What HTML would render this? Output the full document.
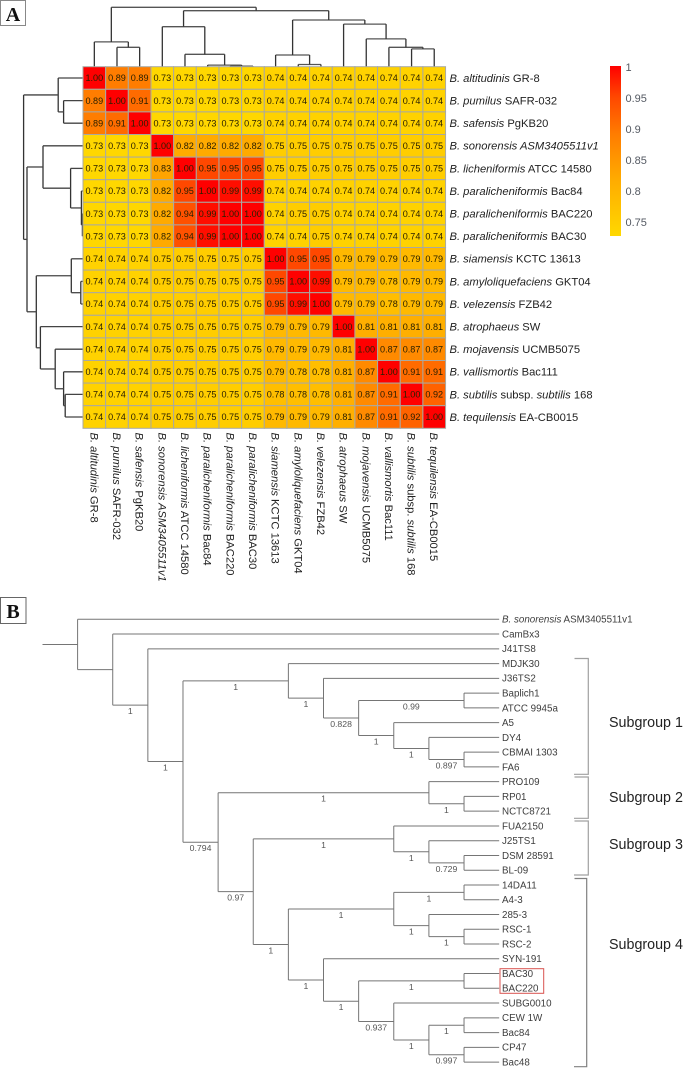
<!DOCTYPE html>
<html lang="en">
<head>
<meta charset="utf-8">
<title>ANI heatmap and phylogenetic tree</title>
<style>
html,body{margin:0;padding:0;background:#fff;}
#figure{display:block;width:685px;height:1068px;font-family:"Liberation Sans",sans-serif;filter:blur(0.35px);}
</style>
</head>
<body>
<svg id="figure" xmlns="http://www.w3.org/2000/svg" width="685" height="1068" viewBox="0 0 685 1068">
  <rect x="0" y="0" width="685" height="1068" fill="#fff"/>
  <g>
    <rect x="0.5" y="0.5" width="25" height="25" fill="#fff" stroke="#888"/>
    <text x="13" y="21" text-anchor="middle" font-family="'Liberation Serif',serif" font-weight="bold" font-size="20" fill="#111">A</text>
  </g>
  <g id="topDendrogram"></g>
  <g id="leftDendrogram"></g>
  <g id="heatmap"></g>
  <g id="rowLabels"></g>
  <g id="colLabels"></g>
  <g id="colorbar"></g>
  <g>
    <rect x="0.5" y="597.5" width="25.5" height="26" fill="#fff" stroke="#666"/>
    <text x="13" y="618" text-anchor="middle" font-family="'Liberation Serif',serif" font-weight="bold" font-size="20" fill="#111">B</text>
  </g>
  <g id="phylo"></g>
  <rect x="500" y="968.7" width="43.7" height="24.6" fill="none" stroke="#d9534f" stroke-width="1"/>
  <g fill="none" stroke="#a0a0a0" stroke-width="1.2">
    <path d="M574.5 658.5H588.3V774.3H574"/>
    <path d="M574.5 777H588.3V818.3H574"/>
    <path d="M574.5 821H588.3V875H574"/>
    <path stroke="#808080" d="M574.5 878.5H586.7V1066.7H574"/>
  </g>
  <g font-size="14.3" fill="#222">
    <text x="609" y="727">Subgroup 1</text>
    <text x="609" y="802">Subgroup 2</text>
    <text x="609" y="849">Subgroup 3</text>
    <text x="609" y="949">Subgroup 4</text>
  </g>
</svg>
<script>
// ---- Panel A data ----
const taxa = [
  "*B. altitudinis* GR-8",
  "*B. pumilus* SAFR-032",
  "*B. safensis* PgKB20",
  "*B. sonorensis ASM3405511v1*",
  "*B. licheniformis* ATCC 14580",
  "*B. paralicheniformis* Bac84",
  "*B. paralicheniformis* BAC220",
  "*B. paralicheniformis* BAC30",
  "*B. siamensis* KCTC 13613",
  "*B. amyloliquefaciens* GKT04",
  "*B. velezensis* FZB42",
  "*B. atrophaeus* SW",
  "*B. mojavensis* UCMB5075",
  "*B. vallismortis* Bac111",
  "*B. subtilis* subsp. *subtilis* 168",
  "*B. tequilensis* EA-CB0015"
];
const aniRow01 = [1.00,0.89,0.89,0.73,0.73,0.73,0.73,0.73,0.74,0.74,0.74,0.74,0.74,0.74,0.74,0.74];
const aniRow02 = [0.89,1.00,0.91,0.73,0.73,0.73,0.73,0.73,0.74,0.74,0.74,0.74,0.74,0.74,0.74,0.74];
const aniRow03 = [0.89,0.91,1.00,0.73,0.73,0.73,0.73,0.73,0.74,0.74,0.74,0.74,0.74,0.74,0.74,0.74];
const aniRow04 = [0.73,0.73,0.73,1.00,0.82,0.82,0.82,0.82,0.75,0.75,0.75,0.75,0.75,0.75,0.75,0.75];
const aniRow05 = [0.73,0.73,0.73,0.83,1.00,0.95,0.95,0.95,0.75,0.75,0.75,0.75,0.75,0.75,0.75,0.75];
const aniRow06 = [0.73,0.73,0.73,0.82,0.95,1.00,0.99,0.99,0.74,0.74,0.74,0.74,0.74,0.74,0.74,0.74];
const aniRow07 = [0.73,0.73,0.73,0.82,0.94,0.99,1.00,1.00,0.74,0.75,0.75,0.74,0.74,0.74,0.74,0.74];
const aniRow08 = [0.73,0.73,0.73,0.82,0.94,0.99,1.00,1.00,0.74,0.74,0.75,0.74,0.74,0.74,0.74,0.74];
const aniRow09 = [0.74,0.74,0.74,0.75,0.75,0.75,0.75,0.75,1.00,0.95,0.95,0.79,0.79,0.79,0.79,0.79];
const aniRow10 = [0.74,0.74,0.74,0.75,0.75,0.75,0.75,0.75,0.95,1.00,0.99,0.79,0.79,0.78,0.79,0.79];
const aniRow11 = [0.74,0.74,0.74,0.75,0.75,0.75,0.75,0.75,0.95,0.99,1.00,0.79,0.79,0.78,0.79,0.79];
const aniRow12 = [0.74,0.74,0.74,0.75,0.75,0.75,0.75,0.75,0.79,0.79,0.79,1.00,0.81,0.81,0.81,0.81];
const aniRow13 = [0.74,0.74,0.74,0.75,0.75,0.75,0.75,0.75,0.79,0.79,0.79,0.81,1.00,0.87,0.87,0.87];
const aniRow14 = [0.74,0.74,0.74,0.75,0.75,0.75,0.75,0.75,0.79,0.78,0.78,0.81,0.87,1.00,0.91,0.91];
const aniRow15 = [0.74,0.74,0.74,0.75,0.75,0.75,0.75,0.75,0.78,0.78,0.78,0.81,0.87,0.91,1.00,0.92];
const aniRow16 = [0.74,0.74,0.74,0.75,0.75,0.75,0.75,0.75,0.79,0.79,0.79,0.81,0.87,0.91,0.92,1.00];
const aniMatrix = [aniRow01,aniRow02,aniRow03,aniRow04,aniRow05,aniRow06,aniRow07,aniRow08,aniRow09,aniRow10,aniRow11,aniRow12,aniRow13,aniRow14,aniRow15,aniRow16];
const colorbarTicks = [1,0.95,0.9,0.85,0.8,0.75];
const colorStopValues = [0.73,0.82,0.89,0.95,1];
const colorStopGreens = [215,170,125,72,0];
// cluster tree: [merge height (distance), childA, childB]; numbers as children are taxon indices
const clusterTree = [0.297,
  [0.124, {leaf:0}, [0.097, {leaf:1}, {leaf:2}]],
  [0.28,
    [0.2, {leaf:3}, [0.062, {leaf:4}, [0.008, {leaf:5}, [0.003, {leaf:6}, {leaf:7}]]]],
    [0.2335,
      [0.0585, {leaf:8}, [0.011, {leaf:9}, {leaf:10}]],
      [0.213, {leaf:11}, [0.139, {leaf:12}, [0.097, {leaf:13}, [0.089, {leaf:14}, {leaf:15}]]]]
    ]
  ]
];
// ---- Panel B data ----
// node: [rank, support, ...children]; string children are tips
const phyloTree = [0,'',"*B. sonorensis* ASM3405511v1",
  [1,'',"CamBx3",
    [2,'1',"J41TS8",
      [3,'1',
        [6,'1',"MDJK30",
          [7,'1',"J36TS2",
            [8,'0.828',
              [11,'0.99',"Baplich1","ATCC 9945a"],
              [9,'1',"A5",
                [10,'1',"DY4",
                  [11,'0.897',"CBMAI 1303","FA6"]]]]]],
        [4,'0.794',
          [10,'1',"PRO109",[11,'1',"RP01","NCTC8721"]],
          [5,'0.97',
            [9,'1',"FUA2150",[10,'1',"J25TS1",[11,'0.729',"DSM 28591","BL-09"]]],
            [6,'1',
              [9,'1',[11,'1',"14DA11","A4-3"],[10,'1',"285-3",[11,'1',"RSC-1","RSC-2"]]],
              [7,'1',"SYN-191",
                [8,'1',
                  [11,'1',"BAC30","BAC220"],
                  [9,'0.937',"SUBG0010",
                    [10,'1',[11,'1',"CEW 1W","Bac84"],[11,'0.997',"CP47","Bac48"]]]]]]]]]]]];

// ---- helpers ----
const NS = 'http://www.w3.org/2000/svg';
function mk(parent, tag, name, attrs) {
  const el = document.createElementNS(NS, tag);
  
  
  for (const k in attrs) el.setAttribute(k, attrs[k]);
  parent.appendChild(el);
  return el;
}
function slug(s) { return s.replace(/\*/g,'').replace(/[^A-Za-z0-9]+/g,'-').toLowerCase(); }
function addRichText(el, label) {
  label.split('*').forEach(function (seg, i) {
    if (!seg) return;
    const t = document.createElementNS(NS, 'tspan');
    if (i % 2) t.setAttribute('font-style', 'italic');
    t.textContent = seg;
    el.appendChild(t);
  });
}
function hline(parent, name, x1, x2, y, color, w) {
  return mk(parent, 'line', name, {x1:x1, x2:x2, y1:y, y2:y, stroke:color, 'stroke-width':w});
}
function vline(parent, name, x, y1, y2, color, w) {
  return mk(parent, 'line', name, {x1:x, x2:x, y1:y1, y2:y2, stroke:color, 'stroke-width':w});
}

// ---- Heatmap axes ----
const plotLeft = 83, plotTop = 66.7, cellW = 22.66, cellH = 22.6;
const xCol = i => plotLeft + cellW * i;
const yRow = i => plotTop + cellH * i;
const heightPx = 200;
function colorFor(v) {
  let g = colorStopGreens[colorStopGreens.length - 1];
  if (v <= colorStopValues[0]) g = colorStopGreens[0];
  else for (let i = 1; i < colorStopValues.length; i++) {
    if (v <= colorStopValues[i]) {
      const f = (v - colorStopValues[i-1]) / (colorStopValues[i] - colorStopValues[i-1]);
      g = colorStopGreens[i-1] + f * (colorStopGreens[i] - colorStopGreens[i-1]);
      break;
    }
  }
  return 'rgb(255,' + Math.round(g) + ',0)';
}

// heatmap cells
const heatmap = document.getElementById('heatmap');
aniMatrix.forEach(function (row, r) {
  row.forEach(function (v, c) {
    mk(heatmap, 'rect', 'heatmap-cell', {x:xCol(c), y:yRow(r), width:cellW, height:cellH, fill:colorFor(v), stroke:'#a9a9a2', 'stroke-width':1});
    const t = mk(heatmap, 'text', 'heatmap-value', {x:xCol(c)+cellW/2, y:yRow(r)+cellH/2+3.2, 'text-anchor':'middle', 'font-size':9.1, fill:'#2a2000'});
    t.textContent = v.toFixed(2);
  });
});

// row & column labels
const rowLabels = document.getElementById('rowLabels');
const colLabels = document.getElementById('colLabels');
taxa.forEach(function (label, i) {
  const rt = mk(rowLabels, 'text', 'row-label-' + slug(label), {x:449.5, y:yRow(i)+cellH/2+3.9, 'font-size':11.2, fill:'#222'});
  addRichText(rt, label);
  const cx = xCol(i)+cellW/2-4, cy = 432.5;
  const ct = mk(colLabels, 'text', 'column-label-' + slug(label), {x:cx, y:cy, 'font-size':11.2, fill:'#222', transform:'rotate(90 '+cx+' '+cy+')'});
  addRichText(ct, label);
});

// dendrograms: same cluster tree drawn on two sides
function layoutCluster(node, draw) {
  if (node.leaf !== undefined) return {pos: node.leaf + 0.5, h: 0};
  const a = layoutCluster(node[1], draw), b = layoutCluster(node[2], draw);
  draw(a, b, node[0]);
  return {pos: (a.pos + b.pos) / 2, h: node[0]};
}
const topD = document.getElementById('topDendrogram');
const yHeight = h => plotTop - h * heightPx;
layoutCluster(clusterTree, function (a, b, h) {
  const xa = xCol(a.pos), xb = xCol(b.pos), y = yHeight(h);
  hline(topD, 'top-dendrogram-merge', xa, xb, y, '#555', 1.3);
  vline(topD, 'top-dendrogram-branch', xa, y, yHeight(a.h), '#333', 1.3);
  vline(topD, 'top-dendrogram-branch', xb, y, yHeight(b.h), '#333', 1.3);
});
const leftD = document.getElementById('leftDendrogram');
const xHeight = h => plotLeft - h * heightPx;
layoutCluster(clusterTree, function (a, b, h) {
  const ya = yRow(a.pos), yb = yRow(b.pos), x = xHeight(h);
  vline(leftD, 'left-dendrogram-merge', x, ya, yb, '#333', 1.3);
  hline(leftD, 'left-dendrogram-branch', x, xHeight(a.h), ya, '#444', 1.3);
  hline(leftD, 'left-dendrogram-branch', x, xHeight(b.h), yb, '#444', 1.3);
});

// colorbar
const cb = document.getElementById('colorbar');
const yBar = v => 222 - (v - 0.75) * 620;
const barMin = 0.7274;
const defs = mk(cb, 'defs', 'colorbar-defs', {});
const grad = mk(defs, 'linearGradient', 'colorbar-gradient', {id:'cbGrad', x1:0, y1:1, x2:0, y2:0});
colorStopValues.forEach(function (v) {
  mk(grad, 'stop', 'colorbar-stop', {offset:(v - barMin) / (1 - barMin), 'stop-color':colorFor(v)});
});
mk(cb, 'rect', 'colorbar-ramp', {x:610, y:yBar(1)-1, width:11, height:yBar(barMin)-yBar(1)+1, fill:'url(#cbGrad)'});
colorbarTicks.forEach(function (v) {
  const t = mk(cb, 'text', 'colorbar-tick-label', {x:625.5, y:yBar(v)+4, 'font-size':11, fill:'#555a63'});
  t.textContent = String(v);
});

// phylogenetic tree
const phylo = document.getElementById('phylo');
const xRank = r => 77.6 + 35.13 * r;
const tipX = xRank(12);
const yTip = i => 619.3 + 14.76 * i;
const treeColor = '#757575';
let tipCount = 0;
function drawPhylo(node, parentX) {
  if (typeof node === 'string') {
    const y = yTip(tipCount++);
    hline(phylo, 'tip-branch', parentX, tipX, y, treeColor, 1);
    const t = mk(phylo, 'text', 'tip-label-' + slug(node), {x:502, y:y+3.4, 'font-size':9.8, fill:'#3d3d3d'});
    addRichText(t, node);
    return y;
  }
  const x = xRank(node[0]);
  const ys = [];
  for (let i = 2; i < node.length; i++) ys.push(drawPhylo(node[i], x));
  const y = (ys[0] + ys[ys.length - 1]) / 2;
  vline(phylo, 'clade-bar', x, ys[0], ys[ys.length - 1], treeColor, 1);
  hline(phylo, 'clade-branch', parentX, x, y, treeColor, 1);
  if (node[1]) {
    const t = mk(phylo, 'text', 'support-value', {x:(parentX + x) / 2, y:y+9, 'text-anchor':'middle', 'font-size':8.7, fill:'#555'});
    t.textContent = node[1];
  }
  return y;
}
drawPhylo(phyloTree, 42.5);
</script>
</body>
</html>
